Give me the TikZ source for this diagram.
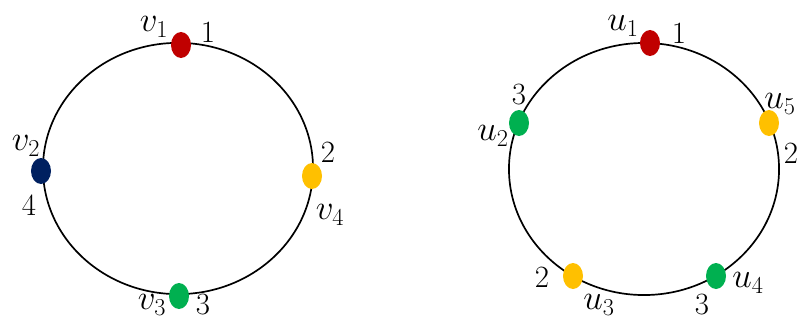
\documentclass[tikz,border=0pt]{standalone}
\usetikzlibrary{shapes.geometric}
\definecolor{dotred}{HTML}{C00000}
\definecolor{dotnavy}{HTML}{002060}
\definecolor{dotyellow}{HTML}{FFC000}
\definecolor{dotgreen}{HTML}{00B050}
\tikzset{
  vdot/.style={ellipse, minimum width=0.5cm, minimum height=0.65cm, inner sep=0pt},
  num/.style={font=\fontsize{22}{26}\selectfont, inner sep=0pt},
  vname/.style={font=\fontsize{25}{28}\selectfont, inner sep=0pt},
}
\begin{document}
\begin{tikzpicture}[x=0.025cm, y=-0.025cm]
        \useasboundingbox (0,0) rectangle (799,323);
        % left cycle
        \draw[line width=1.2pt] (178,168.5) ellipse (3.375cm and 3.14cm);
        \node[vdot,fill=dotred] (v1) at (181,45) {}; \node[vname] (lv1) at (154,27) {$v_1$}; \node[num] (nv1) at (208,32) {1};
        \node[vdot,fill=dotnavy] (v2) at (41,171) {}; \node[vname] (lv2) at (26,146) {$v_2$}; \node[num] (nv2) at (29,205) {4};
        \node[vdot,fill=dotgreen] (v3) at (179,296) {}; \node[vname] (lv3) at (152,305) {$v_3$}; \node[num] (nv3) at (203,305) {3};
        \node[vdot,fill=dotyellow] (v4) at (312,176) {}; \node[vname] (lv4) at (330,215) {$v_4$}; \node[num] (nv4) at (328,152) {2};
        % right cycle
        \draw[line width=1.2pt] (644,169) ellipse (3.375cm and 3.15cm);
        \node[vdot,fill=dotred] (u1) at (650,43) {}; \node[vname] (lu1) at (623,26) {$u_1$}; \node[num] (nu1) at (679,33) {1};
        \node[vdot,fill=dotgreen] (u2) at (519,123) {}; \node[vname] (lu2) at (493,136) {$u_2$}; \node[num] (nu2) at (519,95) {3};
        \node[vdot,fill=dotyellow] (u3) at (573,276) {}; \node[vname] (lu3) at (599,305) {$u_3$}; \node[num] (nu3) at (542,277) {2};
        \node[vdot,fill=dotgreen] (u4) at (716,276) {}; \node[vname] (lu4) at (748,283) {$u_4$}; \node[num] (nu4) at (702,305) {3};
        \node[vdot,fill=dotyellow] (u5) at (769,123) {}; \node[vname] (lu5) at (780,104) {$u_5$}; \node[num] (nu5) at (791,153) {2};
      \end{tikzpicture}
\end{document}
